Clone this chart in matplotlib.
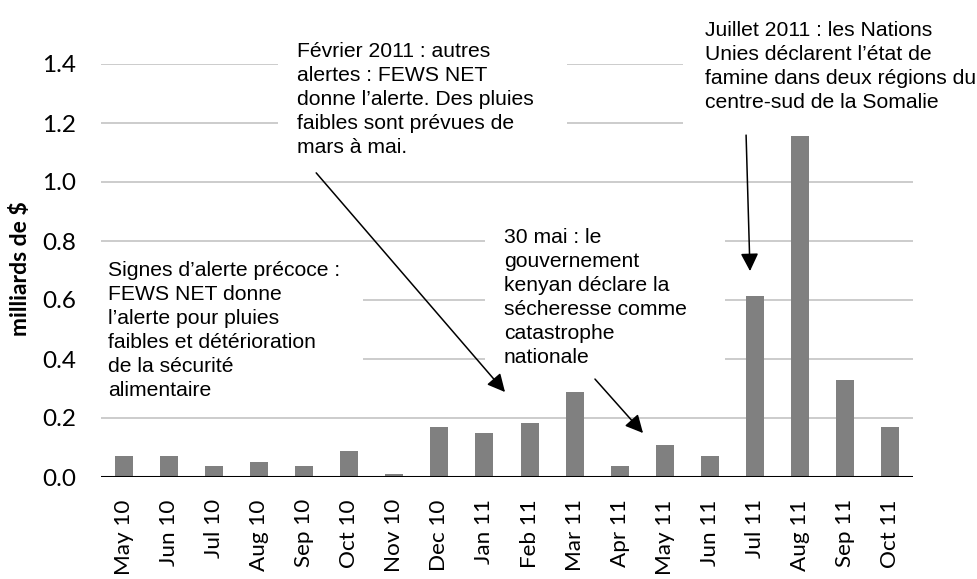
import matplotlib
matplotlib.use("Agg")
import matplotlib.pyplot as plt
from matplotlib.patches import Rectangle

months = ["May 10", "Jun 10", "Jul 10", "Aug 10", "Sep 10", "Oct 10", "Nov 10",
          "Dec 10", "Jan 11", "Feb 11", "Mar 11", "Apr 11", "May 11", "Jun 11",
          "Jul 11", "Aug 11", "Sep 11", "Oct 11"]
funding = [0.072, 0.072, 0.038, 0.052, 0.038, 0.087, 0.011, 0.171, 0.149,
           0.183, 0.288, 0.038, 0.107, 0.072, 0.612, 1.157, 0.328, 0.169]
y_ticks = [0.0, 0.2, 0.4, 0.6, 0.8, 1.0, 1.2, 1.4]
y_label = "milliards de $"

notes = [
    "Signes d\u2019alerte précoce :\nFEWS NET donne\nl\u2019alerte pour pluies\n"
    "faibles et détérioration\nde la sécurité\nalimentaire",
    "Février 2011 : autres\nalertes : FEWS NET\ndonne l\u2019alerte. Des pluies\n"
    "faibles sont prévues de\nmars à mai.",
    "30 mai : le\ngouvernement\nkenyan déclare la\nsécheresse comme\ncatastrophe\nnationale",
    "Juillet 2011 : les Nations\nUnies déclarent l\u2019état de\n"
    "famine dans deux régions du\ncentre-sud de la Somalie",
]

W, H = 978, 579


def fx(px):
    return px / W


def fy(py):
    return 1 - py / H


fig = plt.figure(figsize=(W / 100, H / 100), dpi=100)
ax = fig.add_axes([fx(101), fy(477), 812 / W, 413 / H])

x = list(range(len(months)))
ax.bar(x, funding, width=0.4, color="#808080", zorder=3)
ax.set_xlim(-0.5, len(months) - 0.5)
ax.set_ylim(0, 1.4)

ax.set_yticks(y_ticks)
ax.set_yticklabels([f"{v:.1f}" for v in y_ticks], fontfamily="Lato", fontsize=17.5)
ax.set_xticks(x)
ax.set_xticklabels(months, rotation=90, fontfamily="Lato", fontsize=16.2)
ax.tick_params(axis="y", length=0, pad=18)
ax.tick_params(axis="x", length=0, pad=16)

ax.yaxis.grid(True, color="#BFBFBF", linewidth=1.1, zorder=0)
ax.set_axisbelow(True)
for side in ["top", "right", "left", "bottom"]:
    ax.spines[side].set_visible(False)
ax.axhline(0, color="black", linewidth=2.2, zorder=4)

fig.text(fx(21), fy(269), y_label, rotation=90, ha="center", va="center",
         fontfamily="Lato", fontweight="bold", fontsize=16.5)

# white text boxes that hide the gridlines behind the notes
boxes = [(100, 248, 363, 405), (278, 30, 567, 165), (485, 222, 725, 368), (683, 0, 978, 130)]
for x0, y0, x1, y1 in boxes:
    ax.add_patch(Rectangle((fx(x0), fy(y1)), fx(x1) - fx(x0), fy(y0) - fy(y1),
                           transform=fig.transFigure, facecolor="white",
                           edgecolor="none", clip_on=False, zorder=2))

text_pos = [(108, 261), (297, 42), (504, 228), (705, 21)]
for (tx, ty), note in zip(text_pos, notes):
    ax.text(fx(tx), fy(ty), note, transform=fig.transFigure, ha="left", va="top",
            fontfamily="Liberation Sans", fontsize=15.2, linespacing=1.33,
            zorder=5, clip_on=False)

arrows = [((4.27, 1.031), (8.456, 0.288)),
          ((10.45, 0.332), (11.515, 0.149)),
          ((13.80, 1.159), (13.887, 0.698))]
for start, tip in arrows:
    ax.annotate("", xy=tip, xytext=start,
                arrowprops=dict(arrowstyle="-|>,head_length=0.6,head_width=0.3",
                                mutation_scale=18, color="black", lw=1.1,
                                shrinkA=0, shrinkB=0),
                zorder=6)

fig.savefig("out.png", dpi=100)
